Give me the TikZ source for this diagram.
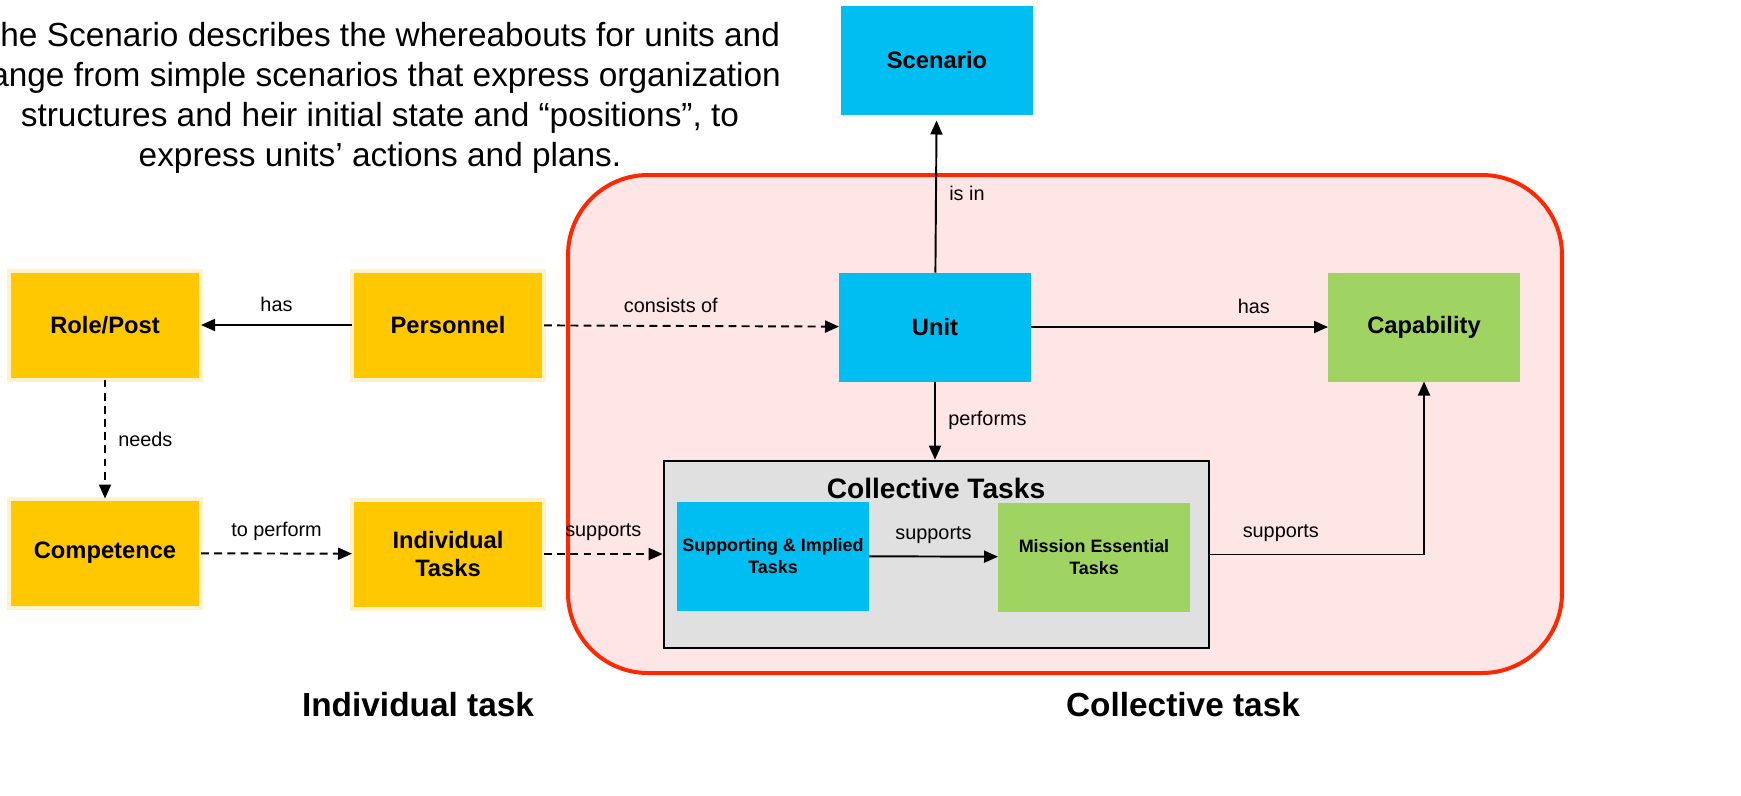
\documentclass[tikz,border=0pt]{standalone}
\usepackage{fontspec}
\setmainfont{Liberation Sans}
\usetikzlibrary{arrows.meta,positioning}
\definecolor{gold}{RGB}{255,200,0}
\definecolor{goldhalo}{RGB}{255,242,204}
\definecolor{sky}{RGB}{0,190,242}
\definecolor{leaf}{RGB}{160,212,98}
\definecolor{rim}{RGB}{255,40,0}
\definecolor{blush}{RGB}{255,230,230}
\definecolor{ash}{RGB}{224,224,224}
\begin{document}
\begin{tikzpicture}[
	box/.style={minimum width=3.84cm, minimum height=2.18cm, inner sep=2pt, outer sep=0pt, align=center, font=\fontsize{13.5}{16}\selectfont\bfseries},
	yel/.style={box, fill=gold, draw=goldhalo, line width=0.08cm},
	blu/.style={box, fill=sky},
	grn/.style={box, fill=leaf},
	small/.style={font=\fontsize{10.2}{12.5}\selectfont\bfseries},
	lbl/.style={font=\fontsize{11.3}{13}\selectfont, inner sep=3pt},
	link/.style={-{Triangle[length=0.28cm,width=0.24cm]}, line width=1.1pt},
	dashlink/.style={link, dash pattern=on 4.5pt off 3pt},
	]
	\useasboundingbox (0,0) rectangle (34.82,-15.9);
	% collective area
	\draw[rim, fill=blush, line width=0.08cm, rounded corners=1.6cm] (11.36,-3.5) rectangle (31.24,-13.46);
	\node[draw, fill=ash, line width=1.5pt, minimum width=10.9cm, minimum height=3.74cm, inner sep=0pt] (coll) at (18.73,-11.09) {};
	\node[font=\fontsize{16}{19}\selectfont\bfseries] (colltitle) at (18.72,-9.76) {Collective Tasks};
	% boxes
	\node[blu] (scen) at (18.74,-1.2) {Scenario};
	\node[blu] (unit) at (18.7,-6.54) {Unit};
	\node[grn] (cap) at (28.48,-6.54) {Capability};
	\node[yel] (role) at (2.1,-6.5) {Role/Post};
	\node[yel] (pers) at (8.96,-6.5) {Personnel};
	\node[yel] (comp) at (2.1,-11.06) {Competence};
	\node[yel] (indiv) at (8.96,-11.08) {Individual\\Tasks};
	\node[blu, small] (supp) at (15.46,-11.12) {Supporting \& Implied\\Tasks};
	\node[grn, small] (mis) at (21.88,-11.14) {Mission Essential\\Tasks};
	% connectors
	\draw[link] (pers) -- node[lbl, above=4pt] (l1) {has} (role);
	\draw[dashlink] (pers) -- node[lbl, above=4pt, pos=0.43] (l2) {consists of} (unit);
	\draw[link, shorten >=0.12cm] (unit) -- node[lbl, right=4pt] (l3) {is in} (scen);
	\draw[link] (unit) -- node[lbl, above=4pt, pos=0.75] (l4) {has} (cap);
	\draw[link] (unit.south) -- node[lbl, right=4pt] (l5) {performs} (unit.south |- coll.north);
	\draw[dashlink] (role) -- node[lbl, right=4pt] (l6) {needs} (comp);
	\draw[dashlink] (comp) -- node[lbl, above=4pt] (l7) {to perform} (indiv);
	\draw[dashlink] (indiv.east) -- node[lbl, above=4pt] (l8) {supports} (indiv.east -| coll.west);
	\draw[link] (supp) -- node[lbl, above=4pt] (l9) {supports} (mis);
	\draw[link] (coll.east) -| node[lbl, above=4pt, pos=0.165] (l10) {supports} (cap.south);
	% texts
	\node[font=\fontsize{19}{22.8}\selectfont, align=center] (note) at (7.6,-1.96) {The Scenario describes the whereabouts for units and\\range from simple scenarios that express organization\\structures and heir initial state and “positions”, to\\express units’ actions and plans.};
	\node[font=\fontsize{19}{22}\selectfont\bfseries] (indlab) at (8.36,-14.1) {Individual task};
	\node[font=\fontsize{19}{22}\selectfont\bfseries] (colllab) at (23.66,-14.1) {Collective task};
\end{tikzpicture}
\end{document}
